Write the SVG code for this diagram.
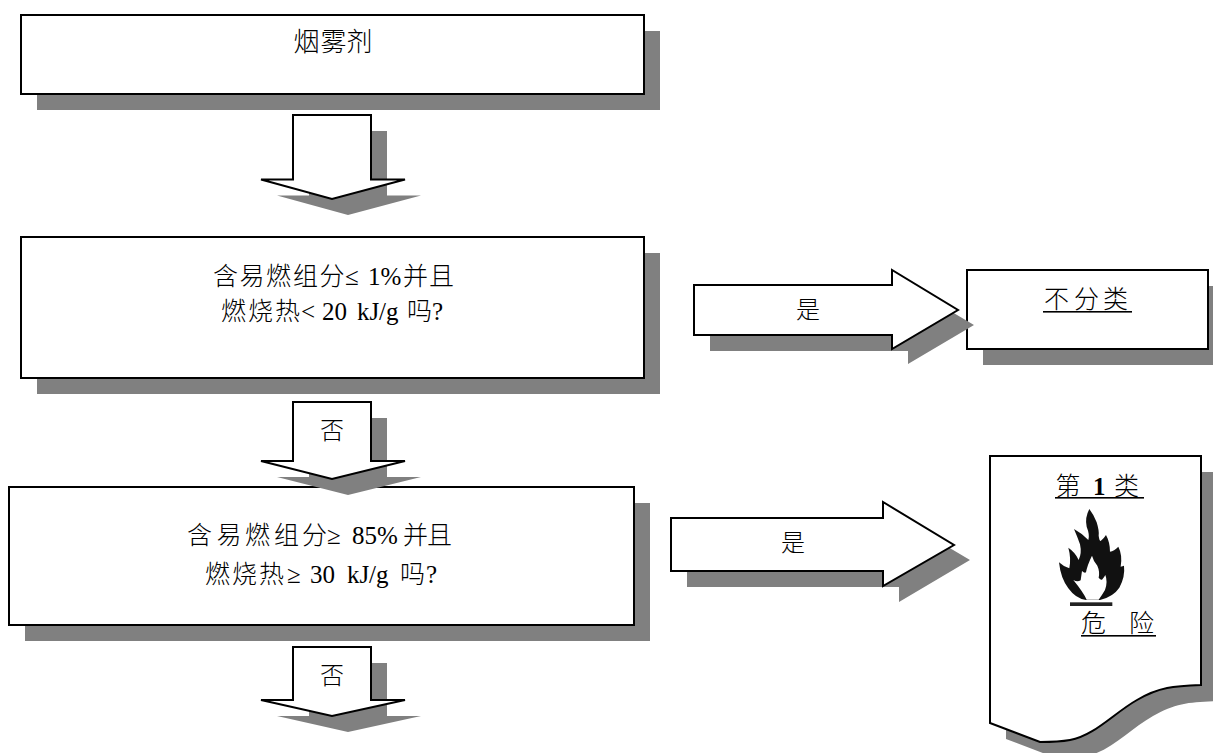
<svg xmlns="http://www.w3.org/2000/svg" width="1213" height="753" viewBox="0 0 1213 753">
<style>
.s{fill:#808080;stroke:none}
.b{fill:#fff;stroke:#000;stroke-width:2;stroke-linejoin:miter}
.u{fill:#000}
text{font-family:"Liberation Serif","Noto Sans CJK SC",serif;font-size:25px;fill:#000;font-weight:300}
.m{text-anchor:middle;font-size:24px}
</style>
<rect width="1213" height="753" fill="#fff"/>
<g id="node-smoke"><rect class="s" x="37" y="31" width="623" height="79"/><rect class="b" x="21" y="15" width="623" height="79"/><text x="293.5 320.5 346.5" y="50.5" style="font-size:26px">烟雾剂</text></g>
<g id="node-q1"><rect class="s" x="37" y="253" width="623" height="141"/><rect class="b" x="21" y="237" width="623" height="141"/><text y="285" x="213 239.500 266 293 319.500 345 358 368 380.500 403 429">含易燃组分≤ 1%并且</text><text y="320" x="221 248 275 301 314 322 334.500 346.500 357 369.500 379 386 396.500 407 432">燃烧热&lt; 20 kJ/g 吗?</text></g>
<g id="node-q2"><rect class="s" x="25" y="503" width="625" height="138"/><rect class="b" x="9" y="487" width="625" height="138"/><text y="544" x="187 216.500 245 274 302 327 341 352 364.500 377 403 427">含易燃组分≥ 85%并且</text><text y="583" x="205 232 259 287 300 310 322.500 335 347 359.500 369 376 388.500 400 426">燃烧热≥ 30 kJ/g 吗?</text></g>
<g id="node-none"><rect class="s" x="983" y="286" width="241" height="79"/><rect class="b" x="967" y="270" width="241" height="79"/><text y="308" x="1044 1074 1103">不分类</text><rect class="u" x="1043" y="311" width="89" height="1.6"/></g>
<g id="node-cat1">
<path class="s" d="M1006 472H1217V701C1190 702 1175 703 1153 716C1130 729 1110 752 1086 756C1075 758 1065 758 1056 758L1006 739Z"/>
<path class="b" d="M990 456H1201V685C1174 686 1159 687 1137 700C1114 713 1094 736 1070 740C1059 742 1049 742 1040 742L990 723Z"/>
<text y="495" x="1055.500 1081 1093 1105 1114">第 <tspan font-weight="700">1</tspan> 类</text><rect class="u" x="1055" y="497" width="89" height="1.6"/>
<g transform="translate(1050 505) scale(.3333)">
<path fill="#111" d="M118 12Q132 30 140 52Q148 78 146 92Q148 108 152 108Q162 100 168 90Q180 112 180 140Q192 138 205 125Q218 150 212 185Q218 184 222 182Q226 215 208 248Q190 275 150 285H108Q78 282 55 250Q32 220 27 172Q42 186 58 190Q64 160 55 128Q76 142 86 165Q96 145 90 118Q82 95 72 72Q96 85 115 105Q120 90 110 65Q104 38 118 12Z"/>
<path fill="#fff" d="M126 152Q130 168 142 182Q150 200 146 218Q152 226 156 224Q162 218 166 210Q174 230 165 255Q155 272 146 284H110Q100 262 70 225Q82 232 92 226Q94 212 96 198Q104 206 108 202Q112 180 126 152Z"/>
<rect x="60" y="292" width="127" height="11" fill="#222"/>
</g>
<text y="632" x="1081 1106 1129">危 险</text><rect class="u" x="1081" y="635" width="75" height="1.6"/>
</g>
<g id="connectors">
<g id="arrow-1"><path class="s" d="M309 131H387V195.500H421L348 215L277 195.500H309Z"/><path class="b" d="M293 115H371V179.500H405L332 199L261 179.500H293Z"/></g>
<g id="arrow-2"><path class="s" d="M309 418H387V477H421L348 495L277 477H309Z"/><path class="b" d="M293 402H371V461H405L332 479L261 461H293Z"/><text class="m" x="332" y="439">否</text></g>
<g id="arrow-3"><path class="s" d="M309 663H387V716H421L348 732L277 716H309Z"/><path class="b" d="M293 647H371V700H405L332 716L261 700H293Z"/><text class="m" x="332" y="684">否</text></g>
<g id="arrow-yes-1"><path class="s" d="M710 301H908V286L974 325L908 364V351H710Z"/><path class="b" d="M694 285H892V270L958 310L892 349V335H694Z"/><text class="m" x="808" y="318">是</text></g>
<g id="arrow-yes-2"><path class="s" d="M687 534H899V518L970 560L899 602V587H687Z"/><path class="b" d="M671 518H883V502L954 545L883 586V571H671Z"/><text class="m" x="793" y="551">是</text></g>
</g>
</svg>
